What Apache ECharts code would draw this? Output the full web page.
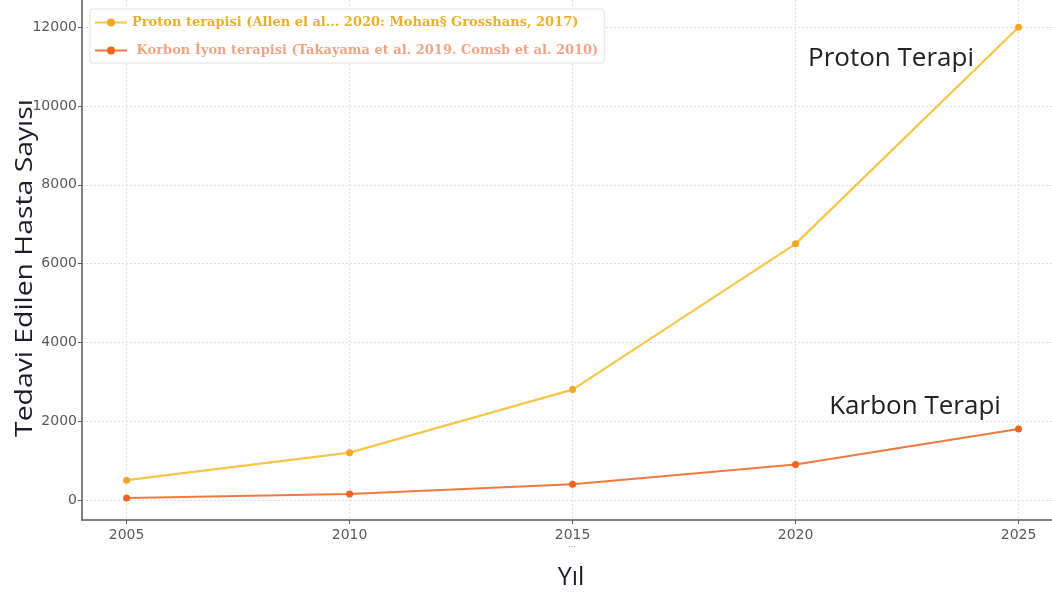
<!DOCTYPE html>
<html>
<head>
<meta charset="utf-8">
<script src="https://cdn.jsdelivr.net/npm/echarts@6/dist/echarts.min.js"></script>
<style>
  html, body { margin: 0; padding: 0; background: #fff; }
  #chart { width: 1052px; height: 597px; }
</style>
</head>
<body>
<div id="chart"></div>
<script>
// Yearly patient counts for particle therapies
const years = [2005, 2010, 2015, 2020, 2025];
const protonValues = [500, 1200, 2800, 6500, 12000];
const carbonValues = [50, 150, 400, 900, 1800];
const yTicks = [0, 2000, 4000, 6000, 8000, 10000, 12000];
const protonName = 'Proton terapisi (Allen el al... 2020: Mohan§ Grosshans, 2017)';
const carbonName = ' Korbon İyon terapisi (Takayama et al. 2019. Comsb et al. 2010)';

const chart = echarts.init(document.getElementById('chart'));

const gridLine = { show: true, lineStyle: { color: '#e0e0e0', type: [2, 2], width: 1 } };
const tickFont = {
  color: '#5a5a5a',
  fontFamily: 'DejaVu Sans',
  fontSize: 14,
  formatter: v => String(v)
};

chart.setOption({
  animation: false,
  backgroundColor: '#ffffff',
  grid: { left: 82, right: 0, top: 0, bottom: 77, outerBoundsMode: 'none', containLabel: false },
  legend: {
    orient: 'vertical',
    left: 90,
    top: 9,
    itemGap: 15,
    itemWidth: 32,
    itemHeight: 10,
    padding: [7, 6, 6, 4],
    backgroundColor: '#ffffff',
    borderColor: '#e2e2e2',
    borderWidth: 1,
    borderRadius: 3,
    textStyle: { fontFamily: 'DejaVu Serif', fontWeight: 'bold', fontSize: 13 },
    data: [
      { name: protonName, textStyle: { color: '#e9b02a' } },
      { name: carbonName, textStyle: { color: '#f0a584' } }
    ]
  },
  xAxis: {
    type: 'value',
    min: 2004,
    max: 2025.75,
    axisLine: { show: true, onZero: false, lineStyle: { color: '#5a5a5a', width: 1.5 } },
    axisTick: { show: true, length: 4, customValues: years, lineStyle: { color: '#5a5a5a' } },
    axisLabel: Object.assign({ customValues: years, margin: 8 }, tickFont),
    splitLine: gridLine
  },
  yAxis: {
    type: 'value',
    min: -510,
    max: 12690,
    axisLine: { show: true, onZero: false, lineStyle: { color: '#5a5a5a', width: 1.5 } },
    axisTick: { show: true, length: 4, customValues: yTicks, lineStyle: { color: '#5a5a5a' } },
    axisLabel: Object.assign({ customValues: yTicks, margin: 5 }, tickFont),
    splitLine: gridLine
  },
  series: [
    {
      name: protonName,
      type: 'line',
      data: years.map((y, i) => [y, protonValues[i]]),
      symbol: 'circle',
      symbolSize: 7,
      lineStyle: { color: '#f7c64a', width: 2.2 },
      itemStyle: { color: '#f5a623' }
    },
    {
      name: carbonName,
      type: 'line',
      data: years.map((y, i) => [y, carbonValues[i]]),
      symbol: 'circle',
      symbolSize: 7,
      lineStyle: { color: '#f07a3c', width: 2 },
      itemStyle: { color: '#ee6420' }
    }
  ],
  graphic: [
    {
      type: 'text', x: 25, y: 268, rotation: Math.PI / 2, scaleX: 1.18,
      style: {
        text: 'Tedavi Edilen Hasta Sayısı', fontFamily: 'Open Sans', fontSize: 24,
        fill: '#1c1c2a', align: 'center', verticalAlign: 'middle'
      }
    },
    {
      type: 'text', x: 571, y: 578,
      style: { text: 'Yıl', fontFamily: 'Open Sans', fontSize: 25, fill: '#1c1c2a', align: 'center', verticalAlign: 'middle' }
    },
    {
      type: 'text', x: 891, y: 59,
      style: { text: 'Proton Terapi', fontFamily: 'Open Sans', fontSize: 26, fill: '#222', align: 'center', verticalAlign: 'middle' }
    },
    {
      type: 'text', x: 915, y: 407,
      style: { text: 'Karbon Terapi', fontFamily: 'Open Sans', fontSize: 26, fill: '#222', align: 'center', verticalAlign: 'middle' }
    },
    {
      type: 'text', x: 572, y: 548,
      style: { text: '···', fontFamily: 'DejaVu Sans', fontSize: 9, fill: '#999', align: 'center', verticalAlign: 'middle' }
    }
  ]
});
</script>
</body>
</html>
